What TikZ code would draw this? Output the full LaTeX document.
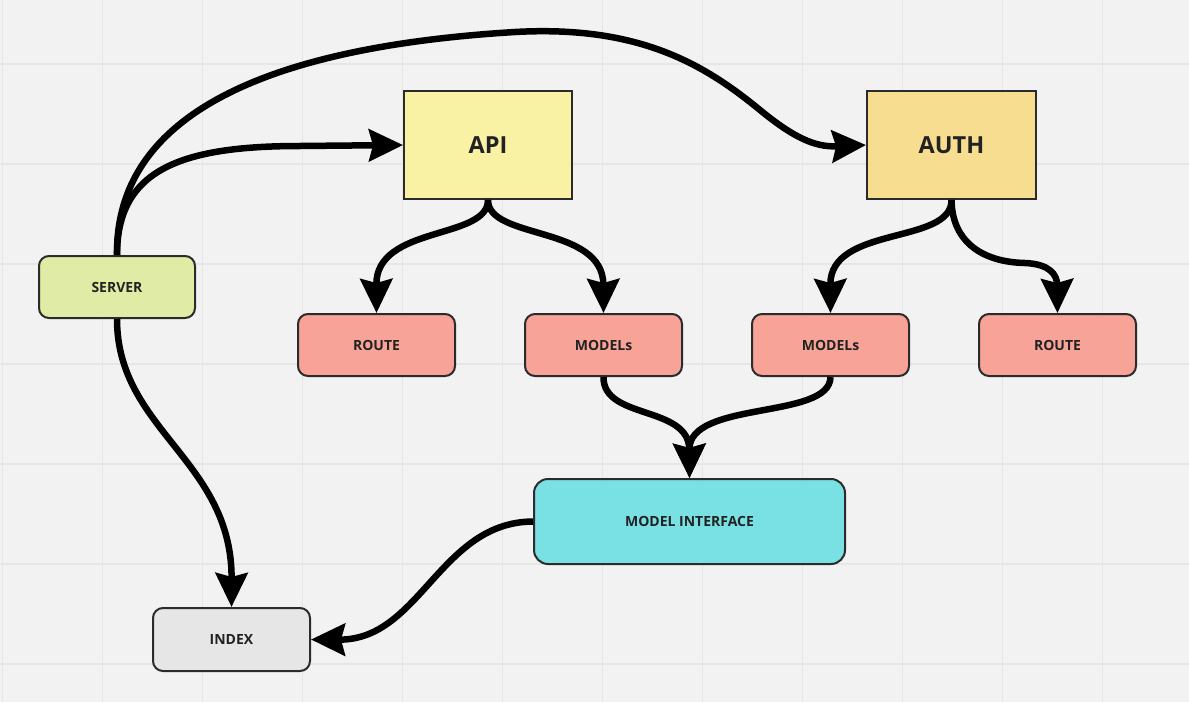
\documentclass[tikz,border=0pt]{standalone}
\usepackage{fontspec}
\setmainfont{Open Sans}
\usetikzlibrary{arrows.meta}
\definecolor{bgc}{HTML}{F2F2F2}
\definecolor{gridc}{HTML}{E6E6E6}
\definecolor{apic}{HTML}{FAF2A0}
\definecolor{authc}{HTML}{F8DC88}
\definecolor{serverc}{HTML}{DFEBA0}
\definecolor{redc}{HTML}{F99E92}
\definecolor{mic}{HTML}{70DFE2}
\definecolor{indexc}{HTML}{E6E6E6}
\definecolor{borderc}{HTML}{2B2B2B}
\definecolor{textc}{HTML}{222222}
\tikzset{
  box/.style={draw=borderc, line width=2pt, fill opacity=0.93, text opacity=1,
    text=textc, font=\fontsize{14}{17}\selectfont\bfseries, inner sep=0pt},
  bigbox/.style={box, minimum width=168pt, minimum height=108pt,
    font=\fontsize{23.5}{28}\selectfont\bfseries},
  smallbox/.style={box, rounded corners=10pt, minimum width=157pt, minimum height=62pt},
  conn/.style={line width=6.5pt, draw=black, -{Stealth[length=34pt,width=32pt,inset=4pt]}}
}
\begin{document}
\begin{tikzpicture}[x=1pt,y=-1pt]
\useasboundingbox (0,0) rectangle (1189,702);
\fill[bgc] (0,0) rectangle (1189,702);
\foreach \gx in {2.5,102.5,...,1189} \draw[gridc, line width=1.2pt] (\gx,0) -- (\gx,702);
\foreach \gy in {64,164,...,702} \draw[gridc, line width=1.2pt] (0,\gy) -- (1189,\gy);

\node[bigbox, fill=apic] (api) at (488,145) {API};
\node[bigbox, fill=authc, minimum width=169pt] (auth) at (951.5,145) {AUTH};
\node[smallbox, fill=serverc, minimum width=156pt] (server) at (117,287) {SERVER};
\node[smallbox, fill=redc] (route1) at (376.5,345) {ROUTE};
\node[smallbox, fill=redc] (models1) at (603.5,345) {MODELs};
\node[smallbox, fill=redc] (models2) at (830.5,345) {MODELs};
\node[smallbox, fill=redc] (route2) at (1057.5,345) {ROUTE};
\node[box, fill=mic, rounded corners=14pt, minimum width=311pt, minimum height=85pt] (mi) at (689.5,521.5) {MODEL INTERFACE};
\node[smallbox, fill=indexc, minimum height=63pt] (index) at (231.5,639.5) {INDEX};

\draw[conn] (server.north) .. controls (117,170) and (180,146) .. (300,146) -- (api.west);
\draw[conn] (server.north) .. controls (115,100) and (300,45) .. (515,32)
  .. controls (640,25) and (705,65) .. (760,110)
  .. controls (800,143) and (820,147) .. (auth.west);
\draw[conn] (server.south) .. controls (117,430) and (232,460) .. (index.north);
\draw[conn] (api.south) .. controls (488,240) and (376,225) .. (route1.north);
\draw[conn] (api.south) .. controls (488,240) and (603,225) .. (models1.north);
\draw[conn] (auth.south) .. controls (952,245) and (830,225) .. (models2.north);
\draw[conn] (auth.south) .. controls (952,240) and (980,262) .. (1025,263)
  .. controls (1050,264) and (1057,275) .. (route2.north);
\draw[conn] (models1.south) .. controls (603,420) and (689,405) .. (mi.north);
\draw[conn] (models2.south) .. controls (830,420) and (689,400) .. (mi.north);
\draw[conn] (mi.west) .. controls (440,522) and (420,640) .. (index.east);
\end{tikzpicture}
\end{document}
